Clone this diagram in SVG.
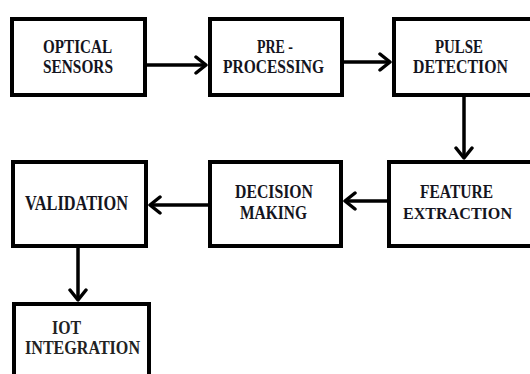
<svg xmlns="http://www.w3.org/2000/svg" width="530" height="374" viewBox="0 0 530 374">
<defs>
<marker id="ah" viewBox="0 0 14 20" refX="12" refY="10" markerWidth="14" markerHeight="20" markerUnits="userSpaceOnUse" orient="auto">
<path d="M2,2 L12,10 L2,18" fill="none" stroke="#000" stroke-width="3.5" stroke-linecap="round" stroke-linejoin="round"/>
</marker>
<style>
.box{fill:#fff;stroke:#000;stroke-width:4}
.t{font-weight:bold;font-size:19px;fill:#141420}
.c{fill:none;stroke:#000;stroke-width:3.5}
</style>
</defs>
<rect width="530" height="374" fill="#fff"/>
<g id="connectors">
<line class="c" x1="147" y1="65" x2="206" y2="65" marker-end="url(#ah)"/>
<line class="c" x1="344" y1="62" x2="390" y2="62" marker-end="url(#ah)"/>
<line class="c" x1="464" y1="97" x2="464" y2="158" marker-end="url(#ah)"/>
<line class="c" x1="387" y1="201" x2="345" y2="201" marker-end="url(#ah)"/>
<line class="c" x1="208" y1="205" x2="150" y2="205" marker-end="url(#ah)"/>
<line class="c" x1="78" y1="248" x2="78" y2="300" marker-end="url(#ah)"/>
</g>
<g font-family="Liberation Serif, Times New Roman, serif">
<g id="optical-sensors">
<rect class="box" x="12" y="19" width="133" height="76"/>
<text class="t" x="43" y="53" textLength="69" lengthAdjust="spacingAndGlyphs">OPTICAL</text>
<text class="t" x="43" y="73" textLength="70" lengthAdjust="spacingAndGlyphs">SENSORS</text>
</g>
<g id="pre-processing">
<rect class="box" x="210" y="19" width="132" height="76"/>
<text class="t" x="257" y="53" textLength="36" lengthAdjust="spacingAndGlyphs">PRE -</text>
<text class="t" x="223" y="73" textLength="101" lengthAdjust="spacingAndGlyphs">PROCESSING</text>
</g>
<g id="pulse-detection">
<rect class="box" x="394" y="19" width="150" height="76"/>
<text class="t" x="435" y="53" textLength="48" lengthAdjust="spacingAndGlyphs">PULSE</text>
<text class="t" x="413" y="73" textLength="95" lengthAdjust="spacingAndGlyphs">DETECTION</text>
</g>
<g id="validation">
<rect class="box" x="13" y="162" width="133" height="84"/>
<text class="t" x="25" y="210" textLength="103" lengthAdjust="spacingAndGlyphs" style="font-size:21px">VALIDATION</text>
</g>
<g id="decision-making">
<rect class="box" x="210" y="162" width="131" height="84"/>
<text class="t" x="235" y="198" textLength="78" lengthAdjust="spacingAndGlyphs">DECISION</text>
<text class="t" x="240" y="219" textLength="67" lengthAdjust="spacingAndGlyphs">MAKING</text>
</g>
<g id="feature-extraction">
<rect class="box" x="389" y="162" width="150" height="84"/>
<text class="t" x="420" y="198" textLength="73" lengthAdjust="spacingAndGlyphs">FEATURE</text>
<text class="t" x="403" y="219" textLength="109" lengthAdjust="spacingAndGlyphs" style="font-size:17.5px">EXTRACTION</text>
</g>
<g id="iot-integration">
<rect class="box" x="14" y="304" width="135" height="80"/>
<text class="t" x="52" y="334" textLength="29" lengthAdjust="spacingAndGlyphs" style="fill:#222">IOT</text>
<text class="t" x="25" y="354" textLength="115" lengthAdjust="spacingAndGlyphs" style="fill:#222">INTEGRATION</text>
</g>
</g>
</svg>
